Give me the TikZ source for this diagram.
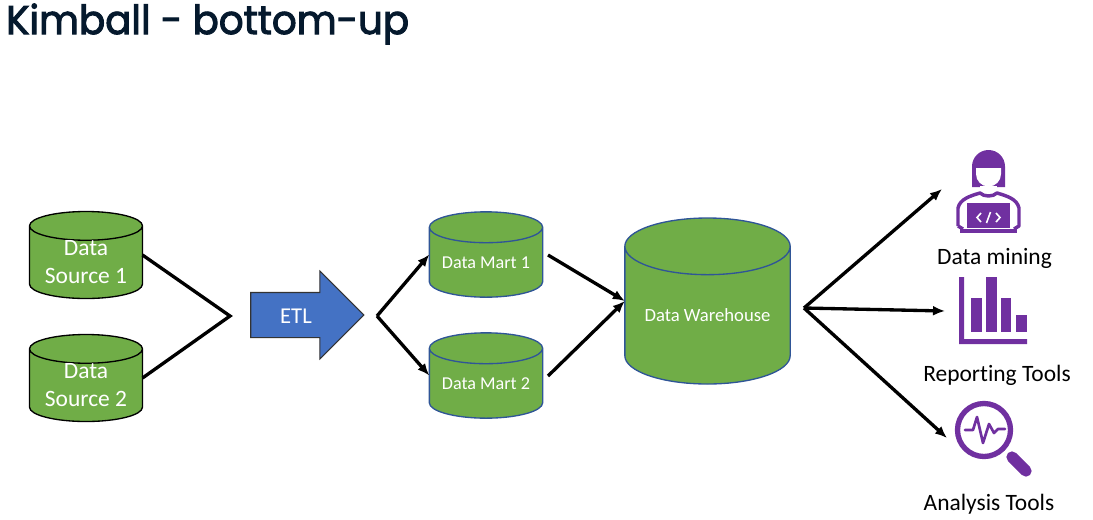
\documentclass[tikz,border=0pt]{standalone}
\usepackage{fontspec}
\setmainfont[Ligatures=NoCommon]{Carlito}
\newfontfamily\titlefont[FakeBold=2.5,FakeStretch=0.97]{Poppins}
\usepackage{xcolor}
\definecolor{dbgreen}{RGB}{112, 173, 71}
\definecolor{dbblue}{RGB}{47, 85, 151}
\definecolor{etlblue}{RGB}{68, 114, 196}
\definecolor{toolpurple}{RGB}{112, 48, 160}
\definecolor{titlenavy}{RGB}{5, 25, 45}
\usetikzlibrary{shapes.geometric,shapes.arrows,arrows.meta,positioning}

\begin{document}
\begin{tikzpicture}[
  x=0.75pt, y=-0.75pt,
  db/.style={cylinder, shape border rotate=90, shape aspect=0.35, fill=dbgreen, draw=dbblue, line width=1pt, text=white, align=center, inner sep=0pt, outer sep=0pt, anchor=shape center},
  flow/.style={-{Latex[length=9pt,width=7.5pt]}, line width=2.5pt, color=black},
  merge/.style={line width=2.5pt, color=black},
  tool/.style={font=\fontsize{17.6}{20}\selectfont, inner sep=0pt},
  icon/.style={fill=toolpurple, draw=none}
]
\useasboundingbox (0,0) rectangle (1093,519);

\node[anchor=west, inner sep=0pt, text=titlenavy, font=\titlefont\fontsize{30}{34}\selectfont] (title) at (6,24) {Kimball - bottom-up};

% sources
\node[db, draw=black, minimum width=84.75pt, minimum height=64.5pt, font=\fontsize{17.6}{21}\selectfont] (src1) at (86,255) {Data\\Source 1};
\node[db, draw=black, minimum width=84.75pt, minimum height=64.5pt, font=\fontsize{17.6}{21}\selectfont] (src2) at (86,378) {Data\\Source 2};
\coordinate (apex) at (230,316);
\draw[merge, line join=miter] (src1.shape center -| src1.east) -- (apex) -- (src2.shape center -| src2.east);

\node[single arrow, single arrow head extend=16pt, single arrow tip angle=90, single arrow head indent=0pt, minimum height=84.75pt, minimum width=65.25pt, text height=23pt, text depth=10pt, fill=etlblue, draw=black!80, line width=0.8pt, text=white, inner sep=0pt, outer sep=0pt, font=\fontsize{17}{18}\selectfont] (etl) at (296,315) {ETL};

% marts and warehouse
\node[db, minimum width=85pt, minimum height=64pt, font=\fontsize{13.6}{15}\selectfont] (mart1) at (486,254.5) {Data Mart 1};
\node[db, minimum width=85pt, minimum height=64pt, font=\fontsize{13.6}{15}\selectfont] (mart2) at (486,375.5) {Data Mart 2};
\node[db, shape aspect=0.45, minimum width=124pt, minimum height=124.5pt, font=\fontsize{14}{15}\selectfont] (dw) at (707.5,301) {Data Warehouse};

\coordinate (fork) at (377,316);
\draw[flow] (fork) -- (mart1.shape center -| mart1.west);
\draw[flow] (fork) -- (mart2.shape center -| mart2.west);
\coordinate (out1) at (548,255);
\coordinate (out2) at (548,376);
\draw[flow] (out1) -- (dw.shape center -| dw.west);
\draw[flow] (out2) -- (dw.shape center -| dw.west);

% tools
\node[tool] (mining) at (994.5,258) {Data mining};
\node[tool] (reporting) at (997,375) {Reporting Tools};
\node[tool] (analysis) at (989,504) {Analysis Tools};

\coordinate (hub) at (804,308);
\coordinate (miningin) at (942,189);
\coordinate (reportingin) at (945,311);
\coordinate (analysisin) at (947,438);
\draw[flow] (hub) -- (miningin);
\draw[flow] (hub) -- (reportingin);
\draw[flow] (hub) -- (analysisin);

% person
\fill[icon] (972,187) -- (972,166.5) arc[start angle=180, end angle=360, radius=16.5] -- (1005,187) -- cycle;
\fill[white] (976,168) -- (1001,168) -- (1001,174) arc[start angle=0, end angle=180, radius=12.5] -- cycle;
\fill[white] (980,186) -- (997,186) -- (997,191) -- (980,191) -- cycle;
\draw[toolpurple, line width=2.6pt, line join=round] (958,226) -- (958,208) .. controls (960,199) and (970,196) .. (980,193) .. controls (984,197) and (993,197) .. (997,193) .. controls (1007,196) and (1017,199) .. (1019,208) -- (1019,226) -- (1014,229);
\draw[toolpurple, line width=2.6pt, line join=round] (958,226) -- (963,229);
\fill[icon] (967,203) rectangle (1010,228);
\fill[icon] (960,229) rectangle (1017,232.5);
\draw[white, line width=1.2pt] (981,213) -- (977,217.5) -- (981,222);
\draw[white, line width=1.2pt] (996,213) -- (1000,217.5) -- (996,222);
\draw[white, line width=1.2pt] (990.5,212) -- (986.5,223);

% bars
\fill[icon] (959,277) -- (964,277) -- (964,339) -- (1027,339) -- (1027,344) -- (959,344) -- cycle;
\fill[icon] (971,298) rectangle (982,332);
\fill[icon] (986,277) rectangle (997,332);
\fill[icon] (1001,298) rectangle (1011,332);
\fill[icon] (1016,315) rectangle (1027,332);

% magnifier
\draw[toolpurple, line width=4pt] (984,430) circle[radius=26.5];
\draw[toolpurple, line width=8.5pt, line cap=round] (1012,457) -- (1026,471);
\draw[toolpurple, line width=2pt, line cap=round, line join=round] (965,430) -- (973,430) -- (977,417) -- (983,443) -- (989,424) -- (994,433) -- (998,429) -- (1005,429);
\end{tikzpicture}
\end{document}
